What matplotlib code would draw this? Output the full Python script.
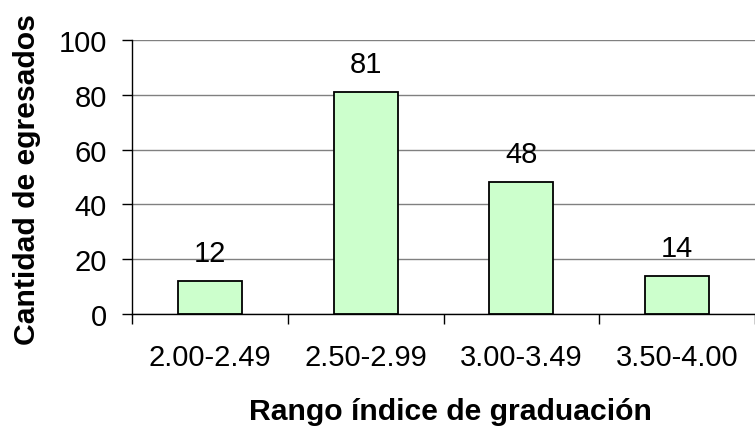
import matplotlib
matplotlib.use("Agg")
import matplotlib.pyplot as plt
import numpy as np

categories = ["2.00-2.49", "2.50-2.99", "3.00-3.49", "3.50-4.00"]
values = [12, 81, 48, 14]
yticks = [0, 20, 40, 60, 80, 100]

plt.rcParams['font.family'] = ['Liberation Sans', 'DejaVu Sans']

W, H = 755, 427
fig = plt.figure(figsize=(W / 100, H / 100), dpi=100)
ax = fig.add_axes([132 / W, 1 - 315 / H, (W - 132) / W, (315 - 41) / H])

x = np.arange(len(categories))
ax.bar(x, values, width=0.41, color="#CCFFCC", edgecolor="black", linewidth=1.3, zorder=3)
for xi, v in zip(x, values):
    ax.annotate(str(v), (xi, v), xytext=(0, 14.4), textcoords="offset points",
                ha="center", va="baseline", fontsize=21)

ax.set_xlim(-0.5, -0.5 + (W - 132) / 159)
ax.set_ylim(0, 100)
ax.set_yticks(yticks)
ax.set_yticklabels([str(t) for t in yticks], fontsize=21)
ax.yaxis.grid(True, color="#808080", linewidth=1.0, zorder=0)
ax.set_axisbelow(True)

ax.set_xticks(np.arange(-0.5, len(categories), 1.0))
ax.set_xticklabels([])
ax.set_xticks(x, minor=True)
ax.set_xticklabels(categories, minor=True, fontsize=21)
ax.tick_params(axis="x", which="minor", length=0, pad=21)
ax.tick_params(axis="x", which="major", length=7, width=1, color="black", direction="out")
ax.tick_params(axis="y", length=7, width=1, pad=11, direction="out")

for s in ["top", "right"]:
    ax.spines[s].set_visible(False)
ax.spines["left"].set_linewidth(1.0)
ax.spines["bottom"].set_linewidth(1.0)

fig.text(450 / W, 1 - 420 / H, "Rango índice de graduación", ha="center", va="baseline",
         fontsize=21.7, fontweight="bold")
fig.text(35 / W, 1 - 180 / H, "Cantidad de egresados", ha="center", va="baseline",
         rotation=90, rotation_mode="anchor", fontsize=21.7, fontweight="bold")

fig.savefig("out.png", dpi=100)
